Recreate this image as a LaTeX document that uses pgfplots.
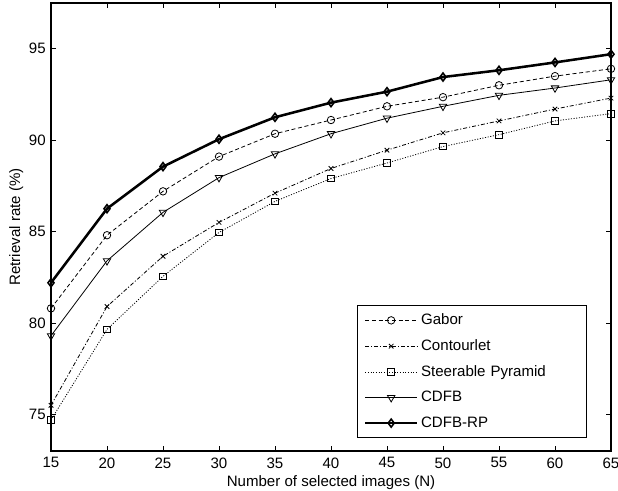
\documentclass[border=0pt]{standalone}
\usepackage{pgfplots}
\pgfplotsset{compat=1.18}
\usepackage{fontspec}
\setmainfont{Liberation Sans}
\begin{document}
\fontsize{11.3}{13.5}\selectfont
\begin{tikzpicture}
\begin{axis}[
  width=420pt, height=336pt, scale only axis,
  xmin=15, xmax=65, ymin=73, ymax=97.5,
  xtick={15,20,...,65}, ytick={75,80,...,95},
  tick align=inside, major tick length=4pt,
  axis line style={line width=0.9pt},
  every tick/.style={black, line width=0.6pt},
  xlabel={Number of selected images (N)},
  ylabel={Retrieval rate (\%)},
  /pgf/number format/assume math mode=true,
  tick label style={font=\fontsize{11.3}{13.5}\selectfont},
  label style={font=\fontsize{11.3}{13.5}\selectfont},
  xticklabel style={yshift=-1pt},
  xlabel style={yshift=2pt},
  ylabel style={yshift=-3.5pt},
  legend cell align=left,
  legend style={at={(0.957,0.029)}, anchor=south east, draw=black, line width=0.7pt,
    font=\fontsize{11.3}{13.5}\selectfont, row sep=5.5pt, inner xsep=5pt, inner ysep=4pt,
    nodes={text width=117pt, align=left}},
  legend image code/.code={\draw[mark repeat=2, mark phase=2] plot coordinates {(0pt,0pt) (19.5pt,0pt) (39pt,0pt)};},
]
\coordinate (sw) at (rel axis cs:0,0);
\coordinate (ne) at (rel axis cs:1,1);
\addplot[black, line width=0.6pt, dash pattern=on 3pt off 2pt, mark=o, mark size=2.8pt, mark options={solid}]
 coordinates {(15,80.8) (20,84.8) (25,87.2) (30,89.1) (35,90.35) (40,91.1) (45,91.85) (50,92.35) (55,93.0) (60,93.5) (65,93.9)};
\addlegendentry{Gabor}
\addplot[black, line width=0.6pt, dash pattern=on 3pt off 1.5pt on 0.8pt off 1.5pt, mark=x, mark size=2.4pt, mark options={solid}]
 coordinates {(15,75.5) (20,80.9) (25,83.65) (30,85.5) (35,87.1) (40,88.45) (45,89.45) (50,90.4) (55,91.05) (60,91.7) (65,92.3)};
\addlegendentry{Contourlet}
\addplot[black, line width=0.6pt, dash pattern=on 0.8pt off 1.2pt, mark=square, mark size=2.5pt, mark options={solid}]
 coordinates {(15,74.7) (20,79.65) (25,82.55) (30,84.95) (35,86.65) (40,87.9) (45,88.75) (50,89.65) (55,90.3) (60,91.05) (65,91.45)};
\addlegendentry{Steerable Pyramid}
\addplot[black, line width=0.6pt, mark=triangle, mark size=3.2pt, mark options={solid, rotate=180}]
 coordinates {(15,79.3) (20,83.4) (25,86.05) (30,87.95) (35,89.25) (40,90.35) (45,91.2) (50,91.85) (55,92.45) (60,92.85) (65,93.3)};
\addlegendentry{CDFB}
\addplot[black, line width=1.9pt, mark=diamond, mark size=3pt, mark options={solid, line width=1.2pt}]
 coordinates {(15,82.2) (20,86.25) (25,88.55) (30,90.05) (35,91.25) (40,92.05) (45,92.65) (50,93.45) (55,93.82) (60,94.25) (65,94.7)};
\addlegendentry{CDFB-RP}
\end{axis}
\pgfresetboundingbox
\path[use as bounding box] ([shift={(-38.25pt,-30pt)}]sw) rectangle ([shift={(5.25pt,2.25pt)}]ne);
\end{tikzpicture}
\end{document}
